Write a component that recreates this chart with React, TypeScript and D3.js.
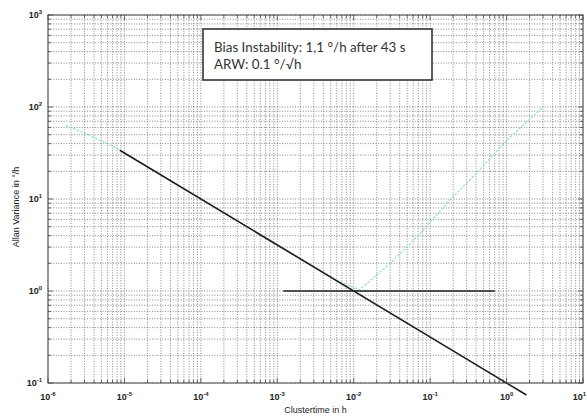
import React from "react";
import * as d3 from "d3";

// Axis decades
const xExponents = [-6, -5, -4, -3, -2, -1, 0, 1];
const yExponents = [-1, 0, 1, 2, 3];

// Measured Allan deviation (cluster time in h, deviation in °/h)
const dataTau = [1.7e-6, 3e-6, 6e-6, 1e-5, 3e-5, 1e-4, 3e-4, 1e-3, 3e-3, 6e-3, 0.0119, 0.02, 0.03, 0.05, 0.081, 0.183, 0.4, 1.11, 3.0];
const dataSigma = [63, 52, 40, 32, 18.3, 10, 5.8, 3.2, 1.85, 1.3, 1.03, 1.5, 2.0, 3.0, 4.6, 9.8, 19, 47, 100];

// Angle random walk fit: sigma = N / sqrt(tau)
const arwCoefficient = 0.1;
const arwTauRange = [8.7e-6, 1.82];

// Bias instability level and its extent
const biasLevel = 1.0;
const biasTauRange = [1.2e-3, 0.7];

const noteLines = ["Bias Instability: 1,1 °/h after 43 s", "ARW: 0.1 °/√h"];
const xTitle = "Clustertime in h";
const yTitle = "Allan Variance in °/h";

const W = 587;
const H = 419;
const left = 48, right = 583, top = 15, bottom = 383;

export default function App() {
  const x = d3.scaleLog().domain([1e-6, 10]).range([left, right]);
  const y = d3.scaleLog().domain([0.1, 1000]).range([bottom, top]);

  const xMinor: number[] = [];
  for (let e = -6; e < 1; e++) for (let m = 2; m <= 9; m++) xMinor.push(m * Math.pow(10, e));
  const yMinor: number[] = [];
  for (let e = -1; e < 3; e++) for (let m = 2; m <= 9; m++) yMinor.push(m * Math.pow(10, e));
  const xMajor = xExponents.map((e) => Math.pow(10, e));
  const yMajor = yExponents.map((e) => Math.pow(10, e));

  const line = d3
    .line<[number, number]>()
    .x((d) => x(d[0]))
    .y((d) => y(d[1]));

  const dataPts: [number, number][] = dataTau.map((t, i) => [t, dataSigma[i]]);
  const arwPts: [number, number][] = arwTauRange.map((t) => [t, arwCoefficient / Math.sqrt(t)]);
  const biasPts: [number, number][] = biasTauRange.map((t) => [t, biasLevel]);

  const gridStyle = { stroke: "#555", strokeWidth: 0.7, strokeDasharray: "1,1.6" };
  const tickColor = "#444";
  const labelFont = "Liberation Sans, Arial, sans-serif";

  return (
    <svg width={W} height={H} style={{ position: "absolute", left: 0, top: 0, background: "#fff" }} fontFamily={labelFont}>
      <rect x={0} y={0} width={W} height={H} fill="#fff" />
      <defs>
        <clipPath id="plotClip">
          <rect x={left} y={top} width={right - left} height={bottom - top} />
        </clipPath>
      </defs>

      {/* grid */}
      <g>
        {[...xMinor, ...xMajor].map((v, i) => (
          <line key={"gx" + i} x1={x(v)} x2={x(v)} y1={top} y2={bottom} {...gridStyle} />
        ))}
        {[...yMinor, ...yMajor].map((v, i) => (
          <line key={"gy" + i} x1={left} x2={right} y1={y(v)} y2={y(v)} {...gridStyle} />
        ))}
      </g>

      {/* ticks on all four sides */}
      <g stroke={tickColor} strokeWidth={0.8}>
        {xMinor.map((v, i) => (
          <g key={"tx" + i}>
            <line x1={x(v)} x2={x(v)} y1={bottom} y2={bottom - 3} />
            <line x1={x(v)} x2={x(v)} y1={top} y2={top + 3} />
          </g>
        ))}
        {xMajor.map((v, i) => (
          <g key={"TX" + i}>
            <line x1={x(v)} x2={x(v)} y1={bottom} y2={bottom - 5} />
            <line x1={x(v)} x2={x(v)} y1={top} y2={top + 5} />
          </g>
        ))}
        {yMinor.map((v, i) => (
          <g key={"ty" + i}>
            <line x1={left} x2={left + 3} y1={y(v)} y2={y(v)} />
            <line x1={right} x2={right - 3} y1={y(v)} y2={y(v)} />
          </g>
        ))}
        {yMajor.map((v, i) => (
          <g key={"TY" + i}>
            <line x1={left} x2={left + 5} y1={y(v)} y2={y(v)} />
            <line x1={right} x2={right - 5} y1={y(v)} y2={y(v)} />
          </g>
        ))}
      </g>

      {/* series */}
      <g clipPath="url(#plotClip)">
        <path d={line(dataPts) || ""} fill="none" stroke="#95e3c8" strokeWidth={1.3} strokeDasharray="2.5,1.5" />
      </g>
      <path d={line(biasPts) || ""} fill="none" stroke="#1c1c1c" strokeWidth={1.6} />
      <path d={line(arwPts) || ""} fill="none" stroke="#1c1c1c" strokeWidth={1.6} />

      {/* axes box */}
      <rect x={left} y={top} width={right - left} height={bottom - top} fill="none" stroke="#444" strokeWidth={1} />

      {/* tick labels */}
      <g fill="#222" fontSize={9} fontWeight="bold">
        {xExponents.map((e, i) => {
          const last = i === xExponents.length - 1;
          return (
            <text
              key={"lx" + e}
              x={last ? W - 1 : x(Math.pow(10, e))}
              y={bottom + 17}
              textAnchor={last ? "end" : "middle"}
            >
              <tspan>10</tspan>
              <tspan fontSize={6} dy={-4}>{e}</tspan>
            </text>
          );
        })}
        {yExponents.map((e) => (
          <text key={"ly" + e} x={left - 6} y={y(Math.pow(10, e)) + 3} textAnchor="end">
            <tspan>10</tspan>
            <tspan fontSize={6} dy={-4}>{e}</tspan>
          </text>
        ))}
      </g>

      {/* axis titles */}
      <text x={(left + right) / 2} y={413} textAnchor="middle" fontSize={9} fill="#222">
        {xTitle}
      </text>
      <text
        transform={`translate(19, ${(top + bottom) / 2 + 8}) rotate(-90)`}
        textAnchor="middle"
        fontSize={9}
        fill="#222"
      >
        {yTitle}
      </text>

      {/* annotation box */}
      <rect x={203} y={29} width={229} height={51} fill="#fff" stroke="#333" strokeWidth={1.6} />
      <g fontFamily="Lato, Open Sans, sans-serif" fontSize={13.4} fill="#333">
        {noteLines.map((s, i) => (
          <text key={"n" + i} x={214} y={52 + i * 17}>
            {s}
          </text>
        ))}
      </g>
    </svg>
  );
}
